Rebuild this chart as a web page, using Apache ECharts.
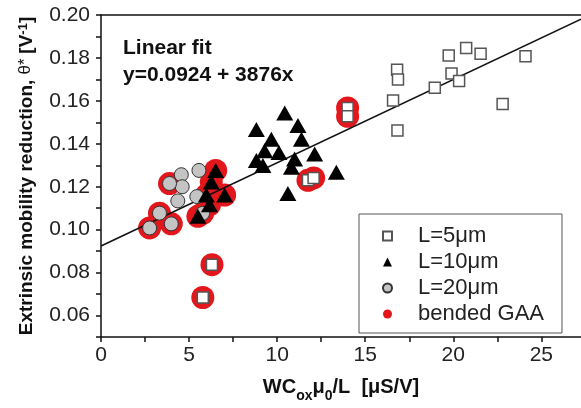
<!DOCTYPE html>
<html>
<head>
<meta charset="utf-8">
<script src="https://cdn.jsdelivr.net/npm/echarts@6/dist/echarts.min.js"></script>
<style>
  html, body { margin: 0; padding: 0; background: #fff; }
  #chart { width: 581px; height: 408px; }
</style>
</head>
<body>
<div id="chart"></div>
<script>
// L=5um squares (no ring)
var l5 = [[16.81, 0.1745], [16.86, 0.1700], [16.58, 0.1602], [16.83, 0.1462],
  [18.95, 0.1661], [19.74, 0.1811], [19.90, 0.1727], [20.33, 0.1692],
  [20.73, 0.1846], [21.55, 0.1819], [24.10, 0.1808], [22.80, 0.1585]];
// L=5um squares in bended GAA
var l5Gaa = [[14.0, 0.1567], [14.0, 0.1528], [11.75, 0.1230], [12.07, 0.1241],
  [6.30, 0.0837], [5.78, 0.0684]];
// L=10um triangles
var l10 = [[10.43, 0.1544], [8.82, 0.1467], [11.18, 0.1485], [9.67, 0.1421],
  [11.38, 0.1421], [9.29, 0.1368], [10.10, 0.1360], [12.13, 0.1352],
  [10.99, 0.1329], [8.82, 0.1322], [9.19, 0.1299], [10.81, 0.1291],
  [13.36, 0.1268], [10.61, 0.1169]];
var l10Gaa = [[6.51, 0.1276], [6.26, 0.1222], [5.98, 0.1161], [7.02, 0.1161],
  [6.16, 0.1116], [5.50, 0.1062]];
// L=20um circles
var l20 = [[4.56, 0.1256], [5.56, 0.1276], [4.61, 0.1200], [4.36, 0.1134], [5.44, 0.1154]];
var l20Gaa = [[3.89, 0.1215], [3.32, 0.1077], [2.76, 0.1008], [3.99, 0.1027], [5.77, 0.1076]];
// linear fit y=0.0924 + 3876x (x in uS/V)
var fitX = [0, 27.25];
var fitY = [0.0924, 0.1980];

var xTicks = ['0', '5', '10', '15', '20', '25'];
var yTicks = ['0.06', '0.08', '0.10', '0.12', '0.14', '0.16', '0.18', '0.20'];

var font = 'Liberation Sans, Arial, sans-serif';
var chart = echarts.init(document.getElementById('chart'));

var fitData = fitX.map(function (x, i) { return [x, fitY[i]]; });

chart.setOption({
  backgroundColor: '#fff',
  animation: false,
  grid: { left: 101, right: 0, top: 15, bottom: 66 },
  graphic: [
    { type: 'text', left: 123, top: 38, style: { text: 'Linear fit', font: 'bold 21px ' + font, fill: '#111' } },
    { type: 'text', left: 123, top: 65, style: { text: 'y=0.0924 + 3876x', font: 'bold 21px ' + font, fill: '#111' } }
  ],
  legend: {
    orient: 'vertical',
    left: 359,
    top: 214,
    padding: [11, 18, 8, 23],
    itemGap: 4,
    itemWidth: 9,
    itemHeight: 9,
    selectedMode: false,
    borderColor: '#555',
    borderWidth: 1,
    textStyle: { fontSize: 22, fontFamily: font, color: '#222', padding: [0, 0, 0, 21] },
    data: [
      { name: 'L=5\u03bcm', icon: 'rect' },
      { name: 'L=10\u03bcm', icon: 'triangle' },
      { name: 'L=20\u03bcm', icon: 'circle' },
      { name: 'bended GAA', icon: 'circle' }
    ]
  },
  xAxis: [{
    type: 'value',
    min: 0,
    max: 27.25,
    interval: 2.5,
    name: '{a|WC}{s|ox}{a|\u03bc}{s|0}{a|/L  [\u03bcS/V]}',
    nameLocation: 'middle',
    nameGap: 40,
    nameTextStyle: {
      rich: {
        a: { fontSize: 20, fontWeight: 'bold', fontFamily: font, color: '#111', lineHeight: 22, verticalAlign: 'top' },
        s: { fontSize: 14, fontWeight: 'bold', fontFamily: font, color: '#111', lineHeight: 26, verticalAlign: 'bottom' }
      }
    },
    axisLine: { lineStyle: { color: '#111', width: 1.5 } },
    axisTick: { inside: false, length: 5, lineStyle: { color: '#111', width: 1.5 } },
    axisLabel: {
      margin: 8,
      fontSize: 21,
      fontFamily: font,
      color: '#222',
      showMaxLabel: false,
      formatter: function (v) {
        var s = String(Math.round(v));
        return (Math.abs(v % 5) < 1e-6 && xTicks.indexOf(s) >= 0) ? s : '';
      }
    },
    splitLine: { show: false }
  }, {
    type: 'value',
    position: 'top',
    min: 0,
    max: 27.25,
    axisLine: { show: true, onZero: false, lineStyle: { color: '#111', width: 1.5 } },
    axisTick: { show: false },
    axisLabel: { show: false },
    splitLine: { show: false }
  }],
  yAxis: {
    type: 'value',
    min: 0.05,
    max: 0.20,
    interval: 0.01,
    name: '{a|Extrinsic mobility reduction, }{b|\u03b8* }{a|[V}{p|-1}{a|]}',
    nameLocation: 'middle',
    nameGap: 60,
    nameTextStyle: {
      rich: {
        a: { fontSize: 19, fontWeight: 'bold', fontFamily: font, color: '#111', lineHeight: 24, verticalAlign: 'top' },
        b: { fontSize: 17, fontFamily: font, color: '#111', lineHeight: 24, verticalAlign: 'top' },
        p: { fontSize: 13, fontWeight: 'bold', fontFamily: font, color: '#111', lineHeight: 10, verticalAlign: 'top' }
      }
    },
    axisLine: { show: true, lineStyle: { color: '#111', width: 1.5 } },
    axisTick: { show: true, inside: false, length: 5, lineStyle: { color: '#111', width: 1.5 } },
    axisLabel: {
      margin: 11,
      fontSize: 21,
      fontFamily: font,
      color: '#222',
      formatter: function (v) {
        var s = v.toFixed(2);
        return yTicks.indexOf(s) >= 0 && Math.abs(Math.round(v * 100) % 2) === 0 ? s : '';
      }
    },
    splitLine: { show: false }
  },
  series: [
    {
      name: 'bended GAA',
      type: 'scatter',
      z: 1,
      symbol: 'circle',
      symbolSize: 23,
      itemStyle: { color: '#e3161c', opacity: 1 },
      data: l5Gaa.concat(l10Gaa, l20Gaa)
    },
    {
      name: 'fit',
      type: 'line',
      z: 2,
      symbol: 'none',
      lineStyle: { color: '#111', width: 1.5 },
      data: fitData
    },
    {
      name: 'L=20\u03bcm',
      type: 'scatter',
      z: 3,
      symbol: 'circle',
      symbolSize: 14,
      itemStyle: { color: '#c4c4c4', borderColor: '#333', borderWidth: 1, opacity: 1 },
      data: l20.concat(l20Gaa)
    },
    {
      name: 'L=10\u03bcm',
      type: 'scatter',
      z: 4,
      symbol: 'triangle',
      symbolSize: [17, 15],
      itemStyle: { color: '#000', opacity: 1 },
      data: l10.concat(l10Gaa)
    },
    {
      name: 'L=5\u03bcm',
      type: 'scatter',
      z: 5,
      symbol: 'rect',
      symbolSize: 11,
      itemStyle: { color: '#fff', borderColor: '#555', borderWidth: 1.5, opacity: 1 },
      data: l5.concat(l5Gaa)
    }
  ]
});
</script>
</body>
</html>
